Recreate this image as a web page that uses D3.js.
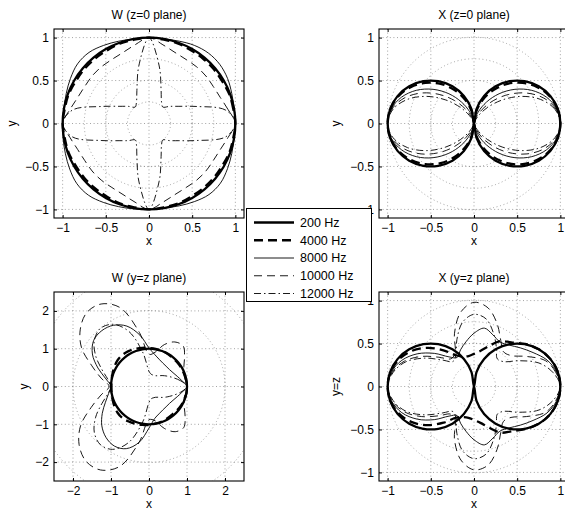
<!DOCTYPE html>
<html>
<head>
<meta charset="utf-8">
<script src="https://cdn.jsdelivr.net/npm/d3@7"></script>
<style>
  body { margin: 0; background: #fff; }
  text { font-family: "Liberation Sans", Arial, Helvetica, sans-serif; fill: #000; }
</style>
</head>
<body>
<svg id="fig" width="565" height="516"></svg>
<script>
// Sampling angles (degrees) shared by every directivity curve
const angles = [0,10,20,30,40,50,60,70,80,90,100,110,120,130,140,150,160,170,
                180,190,200,210,220,230,240,250,260,270,280,290,300,310,320,330,340,350];

const freqLabels = ["200 Hz", "4000 Hz", "8000 Hz", "10000 Hz", "12000 Hz"];

// W channel, horizontal (z=0) plane
const w_z0_200   = [1,1,1,1,1,1,1,1,1, 1,1,1,1,1,1,1,1,1, 1,1,1,1,1,1,1,1,1, 1,1,1,1,1,1,1,1,1];
const w_z0_4000  = [1.00,0.99,0.99,0.98,0.98,0.98,0.98,0.99,0.99, 1.00,0.99,0.99,0.98,0.98,0.98,0.98,0.99,0.99,
                    1.00,0.99,0.99,0.98,0.98,0.98,0.98,0.99,0.99, 1.00,0.99,0.99,0.98,0.98,0.98,0.98,0.99,0.99];
const w_z0_8000  = [1.00,1.00,1.02,1.05,1.07,1.07,1.05,1.02,1.00, 1.00,1.00,1.02,1.05,1.08,1.08,1.05,1.02,1.00,
                    1.00,1.01,1.03,1.06,1.09,1.09,1.06,1.03,1.01, 1.00,1.00,1.02,1.05,1.08,1.08,1.05,1.02,1.00];
const w_z0_10000 = [1.00,0.93,0.88,0.86,0.86,0.86,0.86,0.88,0.93, 1.00,0.93,0.88,0.86,0.86,0.86,0.86,0.88,0.93,
                    1.00,0.93,0.88,0.86,0.86,0.86,0.86,0.88,0.93, 1.00,0.93,0.88,0.86,0.86,0.86,0.86,0.88,0.93];
const w_z0_12000 = [1.00,0.90,0.58,0.40,0.31,0.25,0.29,0.41,0.68, 1.00,0.68,0.41,0.29,0.25,0.31,0.40,0.58,0.90,
                    1.00,0.90,0.58,0.40,0.31,0.25,0.29,0.41,0.68, 1.00,0.68,0.41,0.29,0.25,0.31,0.40,0.58,0.90];

// X channel, horizontal (z=0) plane
const x_z0_200   = [1.000,0.985,0.940,0.866,0.766,0.643,0.500,0.342,0.174, 0.000,0.174,0.342,0.500,0.643,0.766,0.866,0.940,0.985,
                    1.000,0.985,0.940,0.866,0.766,0.643,0.500,0.342,0.174, 0.000,0.174,0.342,0.500,0.643,0.766,0.866,0.940,0.985];
const x_z0_4000  = [1.000,0.983,0.931,0.847,0.736,0.602,0.451,0.291,0.134, 0.000,0.134,0.291,0.451,0.602,0.736,0.847,0.931,0.983,
                    1.000,0.983,0.931,0.847,0.736,0.602,0.451,0.291,0.134, 0.000,0.134,0.291,0.451,0.602,0.736,0.847,0.931,0.983];
const x_z0_8000  = [1.000,0.973,0.894,0.772,0.619,0.452,0.287,0.145,0.043, 0.000,0.043,0.145,0.287,0.452,0.619,0.772,0.894,0.973,
                    1.000,0.973,0.894,0.772,0.619,0.452,0.287,0.145,0.043, 0.000,0.043,0.145,0.287,0.452,0.619,0.772,0.894,0.973];
const x_z0_10000 = [1.000,0.964,0.862,0.708,0.527,0.347,0.189,0.076,0.015, 0.000,0.015,0.076,0.189,0.347,0.527,0.708,0.862,0.964,
                    1.000,0.964,0.862,0.708,0.527,0.347,0.189,0.076,0.015, 0.000,0.015,0.076,0.189,0.347,0.527,0.708,0.862,0.964];
const x_z0_12000 = [1.000,0.952,0.820,0.631,0.426,0.243,0.109,0.032,0.004, 0.000,0.004,0.032,0.109,0.243,0.426,0.631,0.820,0.952,
                    1.000,0.952,0.820,0.631,0.426,0.243,0.109,0.032,0.004, 0.000,0.004,0.032,0.109,0.243,0.426,0.631,0.820,0.952];

// W channel, diagonal (y=z) plane
const w_yz_200   = [1,1,1,1,1,1,1,1,1, 1,1,1,1,1,1,1,1,1, 1,1,1,1,1,1,1,1,1, 1,1,1,1,1,1,1,1,1];
const w_yz_4000  = [1.00,0.99,0.98,0.98,0.98,0.98,0.99,1.00,1.01, 1.02,1.04,1.06,1.08,1.09,1.08,1.05,1.02,1.00,
                    0.99,1.00,1.02,1.05,1.08,1.09,1.07,1.05,1.03, 1.02,1.00,0.99,0.97,0.96,0.97,0.98,0.99,1.00];
const w_yz_8000  = [1.00,0.88,0.79,0.73,0.70,0.70,0.72,0.77,0.86, 1.02,1.38,1.70,1.87,1.93,1.90,1.72,1.43,1.15,
                    1.00,1.08,1.22,1.42,1.62,1.76,1.82,1.75,1.50, 1.10,0.86,0.77,0.72,0.70,0.70,0.73,0.79,0.88];
const w_yz_10000 = [1.00,0.97,0.98,1.06,1.22,1.40,1.36,1.18,0.92, 0.85,1.45,2.22,2.52,2.55,2.36,2.05,1.60,1.28,
                    1.05,1.28,1.62,2.08,2.40,2.58,2.55,2.25,1.50, 0.88,0.92,1.18,1.38,1.42,1.24,1.07,0.98,0.97];
const w_yz_12000 = [1.00,0.85,0.68,0.55,0.45,0.37,0.33,0.32,0.33, 0.40,0.90,1.55,1.90,2.00,1.88,1.62,1.32,1.10,
                    1.00,1.10,1.32,1.62,1.88,2.00,1.92,1.58,0.95, 0.42,0.33,0.32,0.33,0.37,0.45,0.55,0.68,0.85];

// X channel, diagonal (y=z) plane
const x_yz_200   = [1.000,0.985,0.940,0.866,0.766,0.643,0.500,0.342,0.174, 0.000,0.174,0.342,0.500,0.643,0.766,0.866,0.940,0.985,
                    1.000,0.985,0.940,0.866,0.766,0.643,0.500,0.342,0.174, 0.000,0.174,0.342,0.500,0.643,0.766,0.866,0.940,0.985];
const x_yz_4000  = [1.00,0.985,0.94,0.866,0.77,0.67,0.61,0.50,0.42, 0.38,0.36,0.37,0.42,0.55,0.70,0.83,0.925,0.98,
                    1.00,0.98,0.925,0.83,0.70,0.55,0.42,0.38,0.37, 0.39,0.43,0.51,0.62,0.68,0.77,0.866,0.94,0.985];
const x_yz_8000  = [1.00,0.97,0.90,0.79,0.70,0.63,0.60,0.64,0.69, 0.62,0.53,0.455,0.39,0.45,0.60,0.76,0.89,0.97,
                    1.00,0.97,0.89,0.76,0.60,0.45,0.39,0.455,0.53, 0.62,0.69,0.64,0.60,0.63,0.70,0.79,0.90,0.97];
const x_yz_10000 = [1.00,0.96,0.88,0.70,0.56,0.53,0.62,0.78,0.93, 0.98,0.88,0.66,0.44,0.42,0.53,0.70,0.86,0.96,
                    1.00,0.96,0.86,0.70,0.53,0.42,0.44,0.66,0.87, 0.97,0.93,0.78,0.62,0.53,0.56,0.70,0.88,0.96];
const x_yz_12000 = [1.00,0.93,0.80,0.60,0.45,0.42,0.52,0.66,0.80, 0.84,0.76,0.58,0.42,0.38,0.48,0.66,0.84,0.95,
                    1.00,0.95,0.84,0.66,0.48,0.38,0.42,0.58,0.76, 0.84,0.80,0.66,0.52,0.42,0.45,0.60,0.80,0.93];

// Axis ticks and polar reference rings
const ticksUnit = [-1, -0.5, 0, 0.5, 1];
const ticksWide = [-2, -1, 0, 1, 2];
const ringsUnit = [0.25, 0.5, 0.75, 1];
const ringsWide = [1, 2, 3];

// Line styles per frequency
const lineStyles = [
  { width: 2.3, dash: null },
  { width: 2.3, dash: "9,5" },
  { width: 0.9, dash: null },
  { width: 0.9, dash: "8,5" },
  { width: 0.9, dash: "7,3,1.5,3" }
];

const PW = 190, PH = 189;

const panels = [
  { left: 54,  top: 29,  lim: 1.1, ticks: ticksUnit, rings: ringsUnit,
    title: "W (z=0 plane)", ylabel: "y",   ylabelX: 13,
    series: [w_z0_200, w_z0_4000, w_z0_8000, w_z0_10000, w_z0_12000] },
  { left: 379, top: 29,  lim: 1.1, ticks: ticksUnit, rings: ringsUnit,
    title: "X (z=0 plane)", ylabel: "y",   ylabelX: 337,
    series: [x_z0_200, x_z0_4000, x_z0_8000, x_z0_10000, x_z0_12000] },
  { left: 54,  top: 292, lim: 2.5, ticks: ticksWide, rings: ringsWide,
    title: "W (y=z plane)", ylabel: "y",   ylabelX: 25,
    series: [w_yz_200, w_yz_4000, w_yz_8000, w_yz_10000, w_yz_12000] },
  { left: 379, top: 292, lim: 1.1, ticks: ticksUnit, rings: ringsUnit,
    title: "X (y=z plane)", ylabel: "y=z", ylabelX: 337,
    series: [x_yz_200, x_yz_4000, x_yz_8000, x_yz_10000, x_yz_12000] }
];

const svg = d3.select("#fig");
const fmt = d => (d < 0 ? "\u2212" : "") + Math.abs(d);
const gridStyle = sel => sel.attr("stroke", "#8c8c8c").attr("stroke-width", 0.8)
                            .attr("stroke-dasharray", "1,2.6").attr("fill", "none");

panels.forEach((p, i) => {
  const x = d3.scaleLinear().domain([-p.lim, p.lim]).range([p.left, p.left + PW]);
  const y = d3.scaleLinear().domain([-p.lim, p.lim]).range([p.top + PH, p.top]);
  const g = svg.append("g");

  const clipId = "clip" + i;
  svg.append("clipPath").attr("id", clipId)
    .append("rect").attr("x", p.left).attr("y", p.top).attr("width", PW).attr("height", PH);

  const inner = g.append("g").attr("clip-path", `url(#${clipId})`);

  // Cartesian grid
  inner.selectAll(".gx").data(p.ticks).join("line")
    .attr("x1", d => x(d)).attr("x2", d => x(d))
    .attr("y1", p.top).attr("y2", p.top + PH).call(gridStyle);
  inner.selectAll(".gy").data(p.ticks).join("line")
    .attr("y1", d => y(d)).attr("y2", d => y(d))
    .attr("x1", p.left).attr("x2", p.left + PW).call(gridStyle);

  // Polar rings
  inner.selectAll(".ring").data(p.rings).join("circle")
    .attr("cx", x(0)).attr("cy", y(0))
    .attr("r", d => x(d) - x(0)).call(gridStyle);

  // Directivity curves
  const line = d3.line()
    .x(d => x(d[0])).y(d => y(d[1]))
    .curve(d3.curveCatmullRomClosed.alpha(0.5));
  p.series.forEach((radii, k) => {
    const pts = angles.map((a, j) => {
      const t = a * Math.PI / 180;
      return [radii[j] * Math.cos(t), radii[j] * Math.sin(t)];
    });
    const st = lineStyles[k];
    inner.append("path")
      .attr("d", line(pts))
      .attr("fill", "none").attr("stroke", "#000")
      .attr("stroke-width", st.width)
      .attr("stroke-dasharray", st.dash)
      .attr("stroke-linejoin", "round");
  });

  // Axes with inward ticks
  const styleAxis = s => {
    s.select(".domain").remove();
    s.attr("font-size", null).attr("font-family", null);
    s.selectAll("text").attr("font-size", 12);
    s.selectAll("line").attr("stroke", "#000");
  };
  g.append("g").attr("transform", `translate(0,${p.top + PH})`)
    .call(d3.axisBottom(x).tickValues(p.ticks).tickFormat(fmt).tickSize(-3).tickPadding(5))
    .call(styleAxis);
  g.append("g").attr("transform", `translate(${p.left},0)`)
    .call(d3.axisLeft(y).tickValues(p.ticks).tickFormat(fmt).tickSize(-3).tickPadding(5))
    .call(styleAxis);
  g.append("g").attr("transform", `translate(0,${p.top})`)
    .call(d3.axisTop(x).tickValues(p.ticks).tickFormat("").tickSize(-3))
    .call(styleAxis);
  g.append("g").attr("transform", `translate(${p.left + PW},0)`)
    .call(d3.axisRight(y).tickValues(p.ticks).tickFormat("").tickSize(-3))
    .call(styleAxis);

  // Box
  g.append("rect").attr("x", p.left).attr("y", p.top).attr("width", PW).attr("height", PH)
    .attr("fill", "none").attr("stroke", "#000").attr("stroke-width", 1.1);

  // Labels
  g.append("text").attr("x", p.left + PW / 2).attr("y", p.top - 10)
    .attr("text-anchor", "middle").attr("font-size", 12).text(p.title);
  g.append("text").attr("x", p.left + PW / 2).attr("y", p.top + PH + 27)
    .attr("text-anchor", "middle").attr("font-size", 12).text("x");
  g.append("text")
    .attr("transform", `translate(${p.ylabelX + 3},${p.top + PH / 2}) rotate(-90)`)
    .attr("text-anchor", "middle").attr("font-size", 12).text(p.ylabel);
});

// Legend
const leg = svg.append("g");
leg.append("rect").attr("x", 246.5).attr("y", 208.5).attr("width", 125).attr("height", 93)
  .attr("fill", "#fff").attr("stroke", "#000").attr("stroke-width", 1);
freqLabels.forEach((lab, k) => {
  const yy = 222.5 + k * 17.75;
  const st = lineStyles[k];
  leg.append("line").attr("x1", 254).attr("x2", 294).attr("y1", yy).attr("y2", yy)
    .attr("stroke", "#000").attr("stroke-width", st.width).attr("stroke-dasharray", st.dash);
  leg.append("text").attr("x", 300).attr("y", yy).attr("dy", "0.35em")
    .attr("font-size", 12.5).text(lab);
});
</script>
</body>
</html>
